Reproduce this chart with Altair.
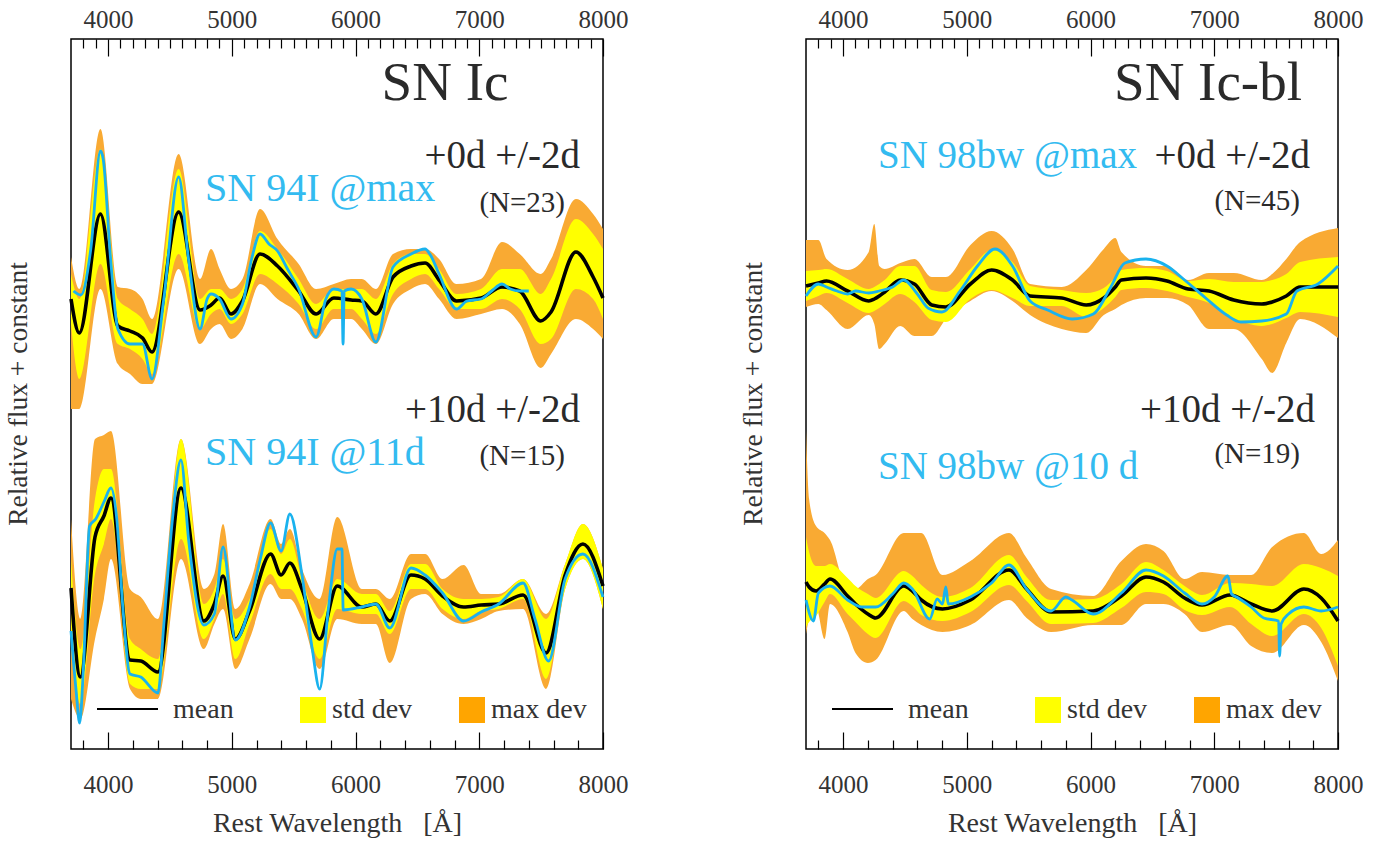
import altair as alt
import pandas as pd

FONT = "Liberation Serif"
ORANGE_BAND = "#F9AA33"
ORANGE = "#FFA500"
YELLOW = "#FFFF00"
BLUE = "#19B2EE"
CYAN_TEXT = "#33BBF0"
DARK = "#2a2a2a"

# ---------------- SN Ic, +0d +/-2d (N=23) ----------------
A_wl = [3700, 3767, 3938, 4079, 4177, 4278, 4355, 4570, 4743, 4832,
        4901, 4993, 5086, 5228, 5369, 5540, 5681, 5824, 5964, 6051,
        6164, 6303, 6449, 6562, 6675, 6816, 7014, 7184, 7327, 7497,
        7580, 7781, 7920, 8000]
A_mean = [4.50, 4.16, 5.35, 4.23, 4.18, 4.11, 3.97, 5.37, 4.39, 4.44,
          4.51, 4.35, 4.48, 4.95, 4.83, 4.58, 4.35, 4.51, 4.49, 4.48,
          4.35, 4.72, 4.83, 4.86, 4.69, 4.48, 4.51, 4.62, 4.58, 4.28,
          4.37, 4.97, 4.72, 4.51]
A_sd_hi = [4.75, 4.50, 6.00, 4.50, 4.40, 4.30, 4.15, 5.80, 4.50, 4.60,
           4.60, 4.50, 4.60, 5.18, 5.00, 4.70, 4.45, 4.60, 4.60, 4.60,
           4.50, 4.85, 4.95, 4.95, 4.80, 4.55, 4.60, 4.80, 4.80, 4.55,
           4.70, 5.30, 5.15, 5.00]
A_sd_lo = [4.25, 3.70, 4.85, 4.05, 4.00, 3.90, 3.75, 4.95, 4.20, 4.35,
           4.40, 4.25, 4.35, 4.75, 4.65, 4.45, 4.20, 4.40, 4.40, 4.30,
           4.15, 4.55, 4.70, 4.75, 4.60, 4.40, 4.40, 4.50, 4.40, 4.05,
           4.10, 4.60, 4.50, 4.30]
A_mx_hi = [4.92, 4.60, 6.20, 4.62, 4.60, 4.50, 4.30, 5.95, 4.70, 5.00,
           4.80, 4.60, 4.70, 5.40, 5.10, 4.85, 4.60, 4.65, 4.70, 4.70,
           4.60, 4.95, 5.00, 5.00, 4.90, 4.65, 4.70, 5.07, 4.95, 4.75,
           4.90, 5.50, 5.35, 5.20]
A_mx_lo = [3.40, 3.40, 4.60, 3.85, 3.75, 3.65, 3.65, 4.80, 4.05, 4.20,
           4.25, 4.10, 4.20, 4.65, 4.50, 4.35, 4.10, 4.30, 4.30, 4.20,
           4.05, 4.45, 4.60, 4.65, 4.50, 4.30, 4.35, 4.40, 4.25, 3.81,
           3.95, 4.30, 4.20, 4.10]
A_obs_wl = [3720, 3780, 3860, 3938, 3960, 4020, 4079, 4177, 4278, 4355,
            4450, 4570, 4650, 4743, 4800, 4832, 4901, 4993, 5086, 5160,
            5228, 5300, 5369, 5450, 5540, 5681, 5760, 5824, 5890, 5899,
            5908, 5964, 6051, 6164, 6303, 6449, 6562, 6600, 6675, 6816,
            6900, 7014, 7100, 7184, 7250, 7327, 7400]
A_obs_f = [4.58, 4.54, 5.00, 5.98, 5.90, 4.90, 4.20, 4.05, 4.05, 3.70,
           4.50, 5.72, 4.90, 4.20, 4.50, 4.55, 4.50, 4.30, 4.45, 4.90,
           5.15, 5.05, 4.98, 4.80, 4.60, 4.12, 4.50, 4.60, 4.58, 4.05,
           4.58, 4.60, 4.50, 4.07, 4.82, 4.95, 5.00, 4.95, 4.75, 4.40,
           4.48, 4.50, 4.58, 4.65, 4.60, 4.58, 4.58]

# ---------------- SN Ic, +10d +/-2d (N=15) ----------------
B_wl = [3700, 3776, 3894, 3966, 4023, 4177, 4264, 4403, 4589, 4774,
        4859, 4929, 5029, 5143, 5313, 5398, 5469, 5567, 5710, 5852,
        6051, 6164, 6277, 6448, 6562, 6703, 6873, 7015, 7157, 7354,
        7540, 7694, 7838, 8000]
B_mean = [1.61, 0.72, 2.12, 2.33, 2.51, 0.89, 0.88, 0.77, 2.61, 1.28,
          1.45, 1.73, 1.10, 1.38, 1.95, 1.74, 1.86, 1.60, 1.10, 1.63,
          1.42, 1.45, 1.28, 1.74, 1.70, 1.53, 1.42, 1.44, 1.45, 1.54,
          0.96, 1.74, 2.05, 1.63]
B_sd_hi = [1.90, 1.00, 2.50, 2.80, 2.80, 1.10, 1.00, 0.90, 3.10, 1.45,
           1.60, 1.90, 1.30, 1.50, 2.20, 1.95, 2.10, 1.70, 1.30, 1.70,
           1.55, 1.55, 1.38, 1.85, 1.85, 1.60, 1.50, 1.50, 1.52, 1.70,
           1.30, 1.85, 2.25, 1.80]
B_sd_lo = [1.10, 0.45, 1.75, 2.05, 2.30, 0.65, 0.60, 0.60, 2.10, 1.10,
           1.30, 1.55, 0.90, 1.25, 1.75, 1.60, 1.60, 1.40, 0.90, 1.40,
           1.35, 1.35, 1.15, 1.60, 1.60, 1.40, 1.30, 1.38, 1.40, 1.50,
           0.70, 1.60, 1.90, 1.40]
B_mx_hi = [2.30, 1.30, 3.10, 3.14, 3.18, 1.60, 1.52, 1.30, 3.10, 1.60,
           1.75, 2.25, 1.40, 1.65, 2.30, 2.05, 2.20, 1.80, 1.50, 2.32,
           1.60, 1.60, 1.50, 1.95, 1.95, 1.70, 1.84, 1.55, 1.55, 1.70,
           1.35, 1.85, 2.25, 1.80]
B_mx_lo = [0.50, 0.30, 1.10, 1.50, 1.90, 0.60, 0.50, 0.50, 1.90, 1.00,
           1.25, 1.40, 0.80, 1.10, 1.65, 1.50, 1.50, 1.30, 0.80, 1.30,
           1.25, 1.25, 0.86, 1.50, 1.55, 1.35, 1.25, 1.30, 1.38, 1.40,
           0.60, 1.60, 1.90, 1.40]
B_obs_wl = [3700, 3740, 3770, 3800, 3850, 3900, 3966, 4023, 4070, 4120,
            4177, 4264, 4403, 4450, 4520, 4589, 4650, 4774, 4859, 4929,
            5029, 5143, 5230, 5313, 5398, 5469, 5567, 5650, 5710, 5780,
            5852, 5890, 5900, 6051, 6164, 6277, 6448, 6562, 6703, 6873,
            7015, 7157, 7354, 7450, 7560, 7694, 7838, 8000]
B_obs_f = [1.18, 0.60, 0.26, 0.80, 2.23, 2.30, 2.47, 2.61, 2.30, 1.40,
           0.75, 0.72, 0.56, 1.24, 2.30, 2.89, 2.10, 1.24, 1.35, 2.02,
           1.09, 1.42, 1.90, 2.26, 1.98, 2.35, 1.74, 1.00, 0.60, 1.40,
           2.00, 2.00, 1.39, 1.42, 1.45, 1.21, 1.81, 1.74, 1.56, 1.28,
           1.37, 1.45, 1.66, 1.30, 0.88, 1.70, 1.95, 1.52]

# ---------------- SN Ic-bl, +0d +/-2d (N=45) ----------------
C_wl = [3700, 3800, 3866, 4036, 4207, 4252, 4292, 4336, 4462, 4576,
        4717, 4831, 5029, 5200, 5369, 5511, 5767, 5965, 6107, 6200,
        6249, 6448, 6618, 6788, 6958, 7157, 7384, 7468, 7582, 7694,
        8000]
C_mean = [4.63, 4.66, 4.68, 4.58, 4.48, 4.50, 4.53, 4.57, 4.69, 4.65,
          4.44, 4.42, 4.65, 4.79, 4.69, 4.53, 4.51, 4.44, 4.51, 4.62,
          4.69, 4.71, 4.68, 4.60, 4.58, 4.49, 4.45, 4.47, 4.53, 4.62,
          4.62]
C_sd_half = [0.15, 0.13, 0.12, 0.12, 0.12, 0.12, 0.12, 0.12, 0.14, 0.18,
             0.15, 0.15, 0.15, 0.20, 0.18, 0.10, 0.08, 0.12, 0.10, 0.10,
             0.10, 0.10, 0.10, 0.08, 0.12, 0.18, 0.22, 0.22, 0.22, 0.25,
             0.30]
C_mx_hi = [5.09, 5.09, 4.90, 4.79, 4.97, 5.25, 4.83, 4.80, 4.86, 4.90,
           4.72, 4.72, 5.04, 5.18, 5.00, 4.65, 4.62, 4.79, 5.00, 5.11,
           4.97, 4.83, 4.83, 4.69, 4.76, 4.76, 4.69, 4.75, 4.90, 5.07,
           5.21]
C_mx_lo = [4.42, 4.45, 4.39, 4.20, 4.34, 4.25, 4.00, 4.05, 4.23, 4.13,
           4.13, 4.30, 4.48, 4.58, 4.48, 4.34, 4.20, 4.16, 4.34, 4.40,
           4.44, 4.51, 4.51, 4.44, 4.20, 4.20, 3.90, 3.76, 4.06, 4.30,
           4.11]
C_obs_wl = [3700, 3800, 3866, 3950, 4036, 4100, 4207, 4292, 4400, 4490,
            4600, 4686, 4799, 4945, 5086, 5228, 5369, 5511, 5653, 5852,
            6022, 6164, 6277, 6448, 6618, 6760, 6930, 7100, 7214, 7384,
            7582, 7668, 7838, 8000]
C_obs_f = [4.53, 4.65, 4.62, 4.58, 4.55, 4.58, 4.56, 4.58, 4.62, 4.69,
           4.55, 4.41, 4.37, 4.58, 4.83, 5.00, 4.83, 4.48, 4.39, 4.30,
           4.35, 4.62, 4.86, 4.90, 4.83, 4.69, 4.51, 4.34, 4.27, 4.28,
           4.35, 4.58, 4.65, 4.83]

# ---------------- SN Ic-bl, +10d +/-2d (N=19) ----------------
D_wl = [3700, 3725, 3781, 3850, 3894, 4036, 4100, 4200, 4263, 4490,
        4560, 4632, 4803, 5029, 5341, 5483, 5681, 6021, 6249, 6448,
        6589, 6760, 6901, 7128, 7298, 7468, 7724, 7864, 8000]
D_mean = [1.67, 1.62, 1.58, 1.65, 1.70, 1.53, 1.45, 1.35, 1.31, 1.63,
          1.58, 1.49, 1.40, 1.49, 1.79, 1.60, 1.37, 1.38, 1.53, 1.72,
          1.67, 1.51, 1.44, 1.54, 1.45, 1.38, 1.60, 1.51, 1.28]
D_sd_half = [0.45, 0.35, 0.25, 0.18, 0.15, 0.18, 0.18, 0.20, 0.20, 0.15,
             0.15, 0.15, 0.12, 0.12, 0.15, 0.12, 0.12, 0.12, 0.12, 0.15,
             0.12, 0.12, 0.10, 0.12, 0.20, 0.25, 0.25, 0.30, 0.45]
D_mx_hi = [3.18, 2.50, 2.23, 2.16, 2.09, 1.60, 1.60, 1.70, 1.74, 2.16,
           2.16, 2.16, 1.74, 1.88, 2.16, 1.91, 1.60, 1.53, 1.88, 2.05,
           1.98, 1.70, 1.77, 1.74, 1.74, 2.02, 2.16, 1.95, 2.09]
D_mx_lo = [1.15, 1.30, 1.42, 1.10, 1.45, 1.17, 0.96, 0.86, 0.89, 1.38,
           1.30, 1.24, 1.17, 1.24, 1.49, 1.31, 1.17, 1.24, 1.24, 1.45,
           1.45, 1.35, 1.17, 1.24, 1.03, 0.96, 1.24, 1.07, 0.68]
D_obs_wl = [3700, 3760, 3800, 3894, 4036, 4150, 4263, 4400, 4490, 4560,
            4700, 4760, 4803, 4830, 4850, 5029, 5200, 5341, 5483, 5681,
            5800, 5850, 6021, 6249, 6448, 6589, 6760, 6901, 7000, 7110,
            7140, 7180, 7298, 7400, 7520, 7528, 7540, 7600, 7724, 7864,
            8000]
D_obs_f = [1.49, 1.28, 1.56, 1.63, 1.49, 1.42, 1.42, 1.55, 1.66, 1.60,
           1.30, 1.50, 1.45, 1.62, 1.45, 1.52, 1.66, 1.84, 1.60, 1.38,
           1.52, 1.49, 1.35, 1.56, 1.79, 1.73, 1.56, 1.45, 1.52, 1.73,
           1.55, 1.52, 1.42, 1.31, 1.28, 0.93, 1.25, 1.35, 1.42, 1.38,
           1.42]

# ---------------- axis ticks / labels ----------------
MAJOR_TICKS = [4000, 5000, 6000, 7000, 8000]
TOP_MINOR_TICKS = [w for w in range(3800, 8000, 100) if w % 1000 != 0]
BOTTOM_MINOR_TICKS = [w for w in range(3800, 8000, 200) if w % 1000 != 0]
X_TITLE = "Rest Wavelength\u00a0\u00a0\u00a0[\u00c5]"
Y_TITLE = "Relative flux + constant"
LEGEND_LABELS = ["mean", "std dev", "max dev"]

LEFT_TEXTS = [
    # text, x, y, size, align, color
    ("SN Ic", 374, 61, 55, "center", DARK),
    ("+0d +/-2d", 509, 129, 39, "right", DARK),
    ("(N=23)", 494, 173, 29, "right", DARK),
    ("SN 94I @max", 134, 162, 40, "left", CYAN_TEXT),
    ("+10d +/-2d", 509, 383, 39, "right", DARK),
    ("SN 94I @11d", 134, 426, 40, "left", CYAN_TEXT),
    ("(N=15)", 494, 426, 29, "right", DARK),
]
RIGHT_TEXTS = [
    ("SN Ic-bl", 402, 61, 55, "center", DARK),
    ("SN 98bw @max", 72, 129, 39, "left", CYAN_TEXT),
    ("+0d +/-2d", 504, 129, 39, "right", DARK),
    ("(N=45)", 494, 171, 29, "right", DARK),
    ("+10d +/-2d", 509, 383, 39, "right", DARK),
    ("(N=19)", 494, 424, 29, "right", DARK),
    ("SN 98bw @10 d", 72, 440, 39, "left", CYAN_TEXT),
]

W, H = 532, 710
ONE = pd.DataFrame({"k": [0]})


def band_frame(name, wl, mean, sd_lo, sd_hi, mx_lo, mx_hi):
    return pd.DataFrame({"spec": name, "wl": wl, "mean": mean, "sd_lo": sd_lo,
                         "sd_hi": sd_hi, "mx_lo": mx_lo, "mx_hi": mx_hi})


def obs_frame(name, wl, f):
    return pd.DataFrame({"spec": name, "wl": wl, "f": f})


def panel(bands, obs, texts):
    xs = alt.Scale(domain=[3700, 8000], nice=False, zero=False)
    ys = alt.Scale(domain=[0, 7.1], nice=False, zero=False)
    common = dict(labelFont=FONT, titleFont=FONT, grid=False, domain=False,
                  tickColor="black", tickWidth=1.2, labelColor="#333",
                  labelFlush=False, labelOverlap=False)
    top_major = alt.Axis(orient="top", values=MAJOR_TICKS, tickSize=17, offset=-17,
                         labelPadding=7, labelFontSize=25, title=None, format="d", **common)
    top_minor = alt.Axis(orient="top", values=TOP_MINOR_TICKS, tickSize=9, offset=-9,
                         labels=False, title=None, **common)
    bot_major = alt.Axis(orient="bottom", values=MAJOR_TICKS, tickSize=17, offset=-17,
                         labelPadding=23, labelFontSize=25, format="d",
                         title=X_TITLE, titleFontSize=28, titleFontWeight="normal",
                         titleColor="#333", titlePadding=12, **common)
    bot_minor = alt.Axis(orient="bottom", values=BOTTOM_MINOR_TICKS, tickSize=9, offset=-9,
                         labels=False, title=None, **common)

    orange = alt.Chart(bands).mark_area(color=ORANGE_BAND, interpolate="monotone").encode(
        x=alt.X("wl:Q", scale=xs, axis=top_major),
        y=alt.Y("mx_lo:Q", scale=ys, axis=None),
        y2="mx_hi:Q", detail="spec:N")
    yellow = alt.Chart(bands).mark_area(color=YELLOW, interpolate="monotone").encode(
        x=alt.X("wl:Q", scale=xs, axis=top_minor),
        y=alt.Y("sd_lo:Q", scale=ys, axis=None),
        y2="sd_hi:Q", detail="spec:N")
    mean = alt.Chart(bands).mark_line(color="black", strokeWidth=3.6, interpolate="monotone").encode(
        x=alt.X("wl:Q", scale=xs, axis=bot_major),
        y=alt.Y("mean:Q", scale=ys, axis=None), detail="spec:N")
    blue = alt.Chart(obs).mark_line(color=BLUE, strokeWidth=2.8, interpolate="monotone").encode(
        x=alt.X("wl:Q", scale=xs, axis=bot_minor),
        y=alt.Y("f:Q", scale=ys, axis=None), detail="spec:N")

    layers = [orange, yellow, mean, blue]
    # y-axis title
    layers.append(alt.Chart(ONE).mark_text(font=FONT, fontSize=27.5, align="center",
                                           baseline="alphabetic", angle=270, color="#333").encode(
        x=alt.value(-44), y=alt.value(355), text=alt.value(Y_TITLE)))
    for t, x, y, size, align, color in texts:
        layers.append(alt.Chart(ONE).mark_text(font=FONT, fontSize=size, align=align,
                                               baseline="alphabetic", color=color).encode(
            x=alt.value(x), y=alt.value(y), text=alt.value(t)))
    # legend
    layers.append(alt.Chart(ONE).mark_rule(color="black", strokeWidth=2).encode(
        x=alt.value(26), x2=alt.value(87), y=alt.value(670)))
    layers.append(alt.Chart(ONE).mark_rect(color=YELLOW).encode(
        x=alt.value(229), x2=alt.value(255), y=alt.value(658), y2=alt.value(684)))
    layers.append(alt.Chart(ONE).mark_rect(color=ORANGE).encode(
        x=alt.value(388), x2=alt.value(414), y=alt.value(658), y2=alt.value(684)))
    for lab, lx in zip(LEGEND_LABELS, [102, 261, 420]):
        layers.append(alt.Chart(ONE).mark_text(font=FONT, fontSize=28, align="left",
                                               baseline="alphabetic", color="#333").encode(
            x=alt.value(lx), y=alt.value(679), text=alt.value(lab)))
    return alt.layer(*layers).resolve_axis(x="independent").properties(width=W, height=H)


left_bands = pd.concat([band_frame("A", A_wl, A_mean, A_sd_lo, A_sd_hi, A_mx_lo, A_mx_hi),
                        band_frame("B", B_wl, B_mean, B_sd_lo, B_sd_hi, B_mx_lo, B_mx_hi)])
left_obs = pd.concat([obs_frame("A", A_obs_wl, A_obs_f), obs_frame("B", B_obs_wl, B_obs_f)])

C_sd_lo = [m - s for m, s in zip(C_mean, C_sd_half)]
C_sd_hi = [m + s for m, s in zip(C_mean, C_sd_half)]
D_sd_lo = [m - s for m, s in zip(D_mean, D_sd_half)]
D_sd_hi = [m + s for m, s in zip(D_mean, D_sd_half)]
right_bands = pd.concat([band_frame("C", C_wl, C_mean, C_sd_lo, C_sd_hi, C_mx_lo, C_mx_hi),
                         band_frame("D", D_wl, D_mean, D_sd_lo, D_sd_hi, D_mx_lo, D_mx_hi)])
right_obs = pd.concat([obs_frame("C", C_obs_wl, C_obs_f), obs_frame("D", D_obs_wl, D_obs_f)])

chart = alt.hconcat(
    panel(left_bands, left_obs, LEFT_TEXTS),
    panel(right_bands, right_obs, RIGHT_TEXTS),
    spacing=203, bounds="flush",
).properties(
    padding={"left": 4, "top": 6, "right": 5, "bottom": 5},
    background="white",
).configure_view(stroke="black", strokeWidth=1.5)

chart.save("out.html", embed_options={"renderer": "svg", "actions": False})
